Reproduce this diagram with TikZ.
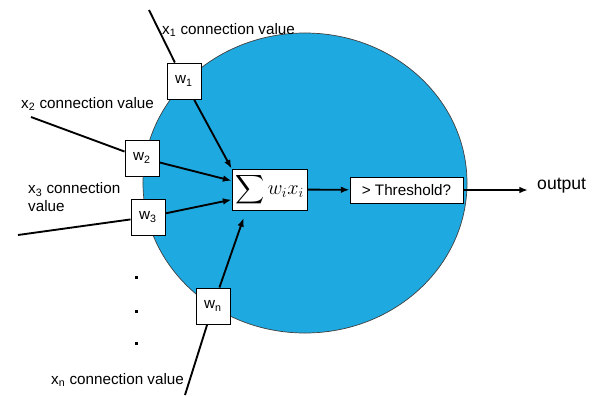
\documentclass[tikz,border=0pt]{standalone}
\usepackage{amsmath}
\usepackage{fontspec}
\setmainfont{Liberation Sans}
\usepackage{tikz}
\usetikzlibrary{shapes.geometric, arrows.meta}
\definecolor{cellblue}{RGB}{30,170,225}

\begin{document}
\begin{tikzpicture}[
        x=0.03cm, y=-0.03cm,
        >={Latex[length=2.6mm, width=2mm]},
        font=\fontsize{13}{15}\selectfont,
        base/.style={draw, fill=white, line width=0.8pt, inner sep=1pt},
        wbox/.style={base, minimum width=1.02cm, minimum height=1.08cm},
        sumbox/.style={base, minimum width=2.25cm, minimum height=1.23cm},
        thrbox/.style={base, minimum width=3.39cm, minimum height=0.78cm},
        label/.style={anchor=west, align=left, inner sep=0pt},
        dotmark/.style={fill=black, minimum size=0.09cm, inner sep=0pt},
        wire/.style={line width=1.6pt},
        arrow/.style={->, line width=1.6pt}
    ]

        \useasboundingbox (0,0) rectangle (599,396);

        \node[ellipse, draw=black!75, line width=0.6pt, fill=cellblue, minimum width=9.72cm, minimum height=9cm, inner sep=0pt] (cell) at (305,183) {};

        \node[sumbox] (sum) at (269.5,189.5) {\fontsize{18}{21}\selectfont$\displaystyle\sum w_i x_i$};
        \node[thrbox] (thr) at (406.5,190) {> Threshold?};
        \node[label, font=\fontsize{15}{17}\selectfont] (output) at (537,186) {output};

        \node[wbox] (w1) at (184,81) {w\textsubscript{1}};
        \node[wbox] (w2) at (142,158) {w\textsubscript{2}};
        \node[wbox] (w3) at (148,217) {w\textsubscript{3}};
        \node[wbox] (wn) at (213,306) {w\textsubscript{n}};

        \node[label] (x1label) at (162,30) {x\textsubscript{1} connection value};
        \node[label] (x2label) at (21,104) {x\textsubscript{2} connection value};
        \node[label] (x3label) at (28,197) {x\textsubscript{3} connection\\value};
        \node[label] (xnlabel) at (51,380) {x\textsubscript{n} connection value};

        \node[dotmark] (dot1) at (136,277) {};
        \node[dotmark] (dot2) at (136,311) {};
        \node[dotmark] (dot3) at (136,343) {};

        \coordinate (x1end) at (149,10);
        \coordinate (x2end) at (31,117);
        \coordinate (x3end) at (18,235);
        \coordinate (xnend) at (185,395);

        \draw[wire] (x1end) -- (w1);
        \draw[wire] (x2end) -- (w2);
        \draw[wire] (x3end) -- (w3);
        \draw[wire] (xnend) -- (wn);

        \draw[arrow] (w1) -- (sum.north west);
        \draw[arrow] (w2) -- (sum.167);
        \draw[arrow] (w3) -- (sum.195);
        \draw[arrow, shorten >=0.24cm] (wn) -- (sum.222);

        \draw[arrow] (sum) -- (thr);
        \draw[arrow, shorten >=0.27cm] (thr.east) -- (thr.east -| output.west);

    \end{tikzpicture}
\end{document}
